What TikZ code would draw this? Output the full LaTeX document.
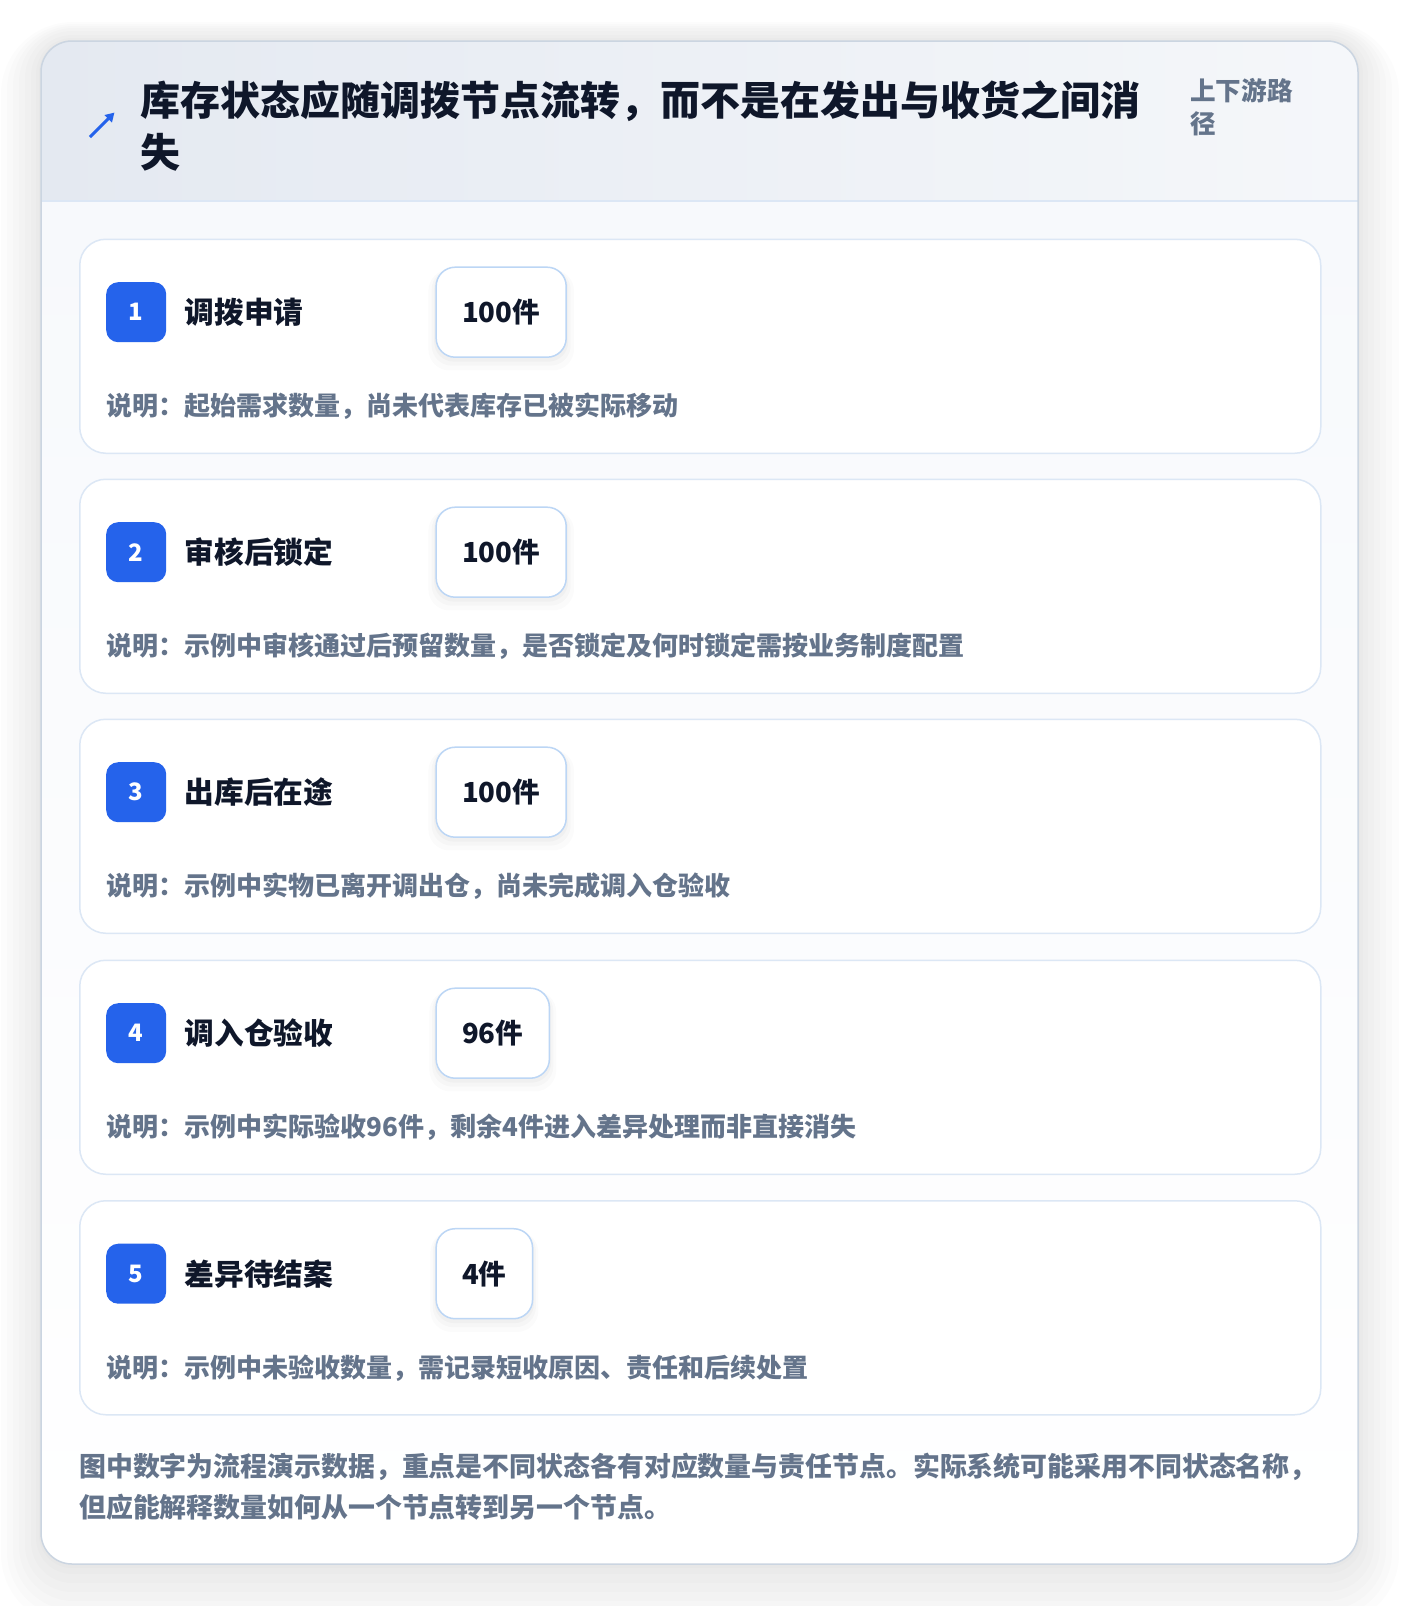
\documentclass[tikz,border=0pt]{standalone}
\usepackage{fontspec}
\setmainfont{Noto Sans CJK SC}
\usetikzlibrary{positioning,calc,shadows}
\usetikzlibrary{arrows.meta}

\definecolor{brandblue}{HTML}{2563EB}
\definecolor{inkdark}{HTML}{0F172A}
\definecolor{inkgray}{HTML}{64748B}
\definecolor{cardline}{HTML}{DCE7F5}
\definecolor{qtyline}{HTML}{BCD6F5}
\definecolor{frameline}{HTML}{CBD5E1}
\definecolor{headleft}{HTML}{E4E9F1}
\definecolor{headright}{HTML}{F5F7FA}
\definecolor{bodyfill}{HTML}{F7F9FC}

\tikzset{
  card/.style={draw=cardline, line width=1.5pt, fill=white, rounded corners=26pt,
    minimum width=1241pt, minimum height=214pt, anchor=north west, inner sep=0pt},
  badge/.style={fill=brandblue, rounded corners=12pt, minimum size=60pt, inner sep=0pt,
    text=white, font=\fontsize{24}{24}\selectfont\bfseries},
  steplabel/.style={anchor=west, inner sep=0pt, text=inkdark,
    font=\fontsize{29.7}{29.7}\selectfont\bfseries},
  qtybox/.style={draw=qtyline, line width=1.5pt, fill=white, rounded corners=19pt,
    minimum height=90pt, inner xsep=26pt, anchor=west, text=inkdark,
    font=\fontsize{27.6}{27.6}\selectfont\bfseries,
    drop shadow={shadow xshift=0pt, shadow yshift=-7pt, shadow scale=1.12, fill=black, opacity=0.015},
    drop shadow={shadow xshift=0pt, shadow yshift=-5pt, shadow scale=1.07, fill=black, opacity=0.02},
    drop shadow={shadow xshift=0pt, shadow yshift=-3pt, shadow scale=1.03, fill=black, opacity=0.025}},
  note/.style={anchor=west, inner sep=0pt, text=inkgray,
    font=\fontsize{26}{26}\selectfont\bfseries},
  haze/.style={black, opacity=0.011},
}

\begin{document}
\begin{tikzpicture}[x=1pt, y=-1pt]
   \fill[white] (0,0) rectangle (1400,1606);

   % soft shadow of the frame
   \fill[haze, rounded corners=72pt] (1,22) rectangle (1399,1626);
   \fill[haze, rounded corners=66pt] (7,24) rectangle (1392,1618);
   \fill[haze, rounded corners=60pt] (13,26) rectangle (1386,1610);
   \fill[haze, rounded corners=54pt] (19,28) rectangle (1380,1601);
   \fill[haze, rounded corners=47pt] (25,31) rectangle (1374,1592);
   \fill[haze, rounded corners=41pt] (31,35) rectangle (1368,1583);
   \fill[haze, rounded corners=36pt] (36,38) rectangle (1363,1574);
   \fill[haze, rounded corners=33pt] (39,40) rectangle (1360,1568);

   % frame and header
   \begin{scope}
      \clip[rounded corners=31pt] (41,41) rectangle (1358,1564);
      \shade[top color=bodyfill, bottom color=white] (41,201) rectangle (1358,1564);
      \shade[left color=headleft, right color=headright] (41,41) rectangle (1358,201);
   \end{scope}
   \draw[cardline, line width=1.2pt] (41,201) -- (1358,201);
   \draw[frameline, line width=1.5pt, rounded corners=31pt] (41,41) rectangle (1358,1564);

   % title
   \coordinate (ic0) at (90,137);
   \coordinate (ic1) at (114.5,112.5);
   \draw[brandblue, line width=3pt, -{Triangle[length=9pt, width=10pt]}] (ic0) -- (ic1);
   \node[anchor=west, inner sep=0pt, align=left, text=inkdark,
         font=\fontsize{40}{52}\selectfont\bfseries] (title) at (140,126)
         {库存状态应随调拨节点流转，而不是在发出与收货之间消\\失};
   \node[anchor=west, inner sep=0pt, align=left, text=inkgray,
         font=\fontsize{25.6}{33}\selectfont\bfseries] (path) at (1190,107)
         {上下游路\\径};

   % step 1
   \node[card] (c1) at (79,238.5) {};
   \node[badge, below right=43.5pt and 27pt of c1.north west] (b1) {1};
   \node[steplabel, right=18pt of b1] (l1) {调拨申请};
   \node[qtybox, right=269pt of b1] (q1) {100件};
   \node[note] (d1) at ($(c1.north west)+(27.5,168)$) {说明：起始需求数量，尚未代表库存已被实际移动};

   % step 2
   \node[card] (c2) at (79,478.5) {};
   \node[badge, below right=43.5pt and 27pt of c2.north west] (b2) {2};
   \node[steplabel, right=18pt of b2] (l2) {审核后锁定};
   \node[qtybox, right=269pt of b2] (q2) {100件};
   \node[note] (d2) at ($(c2.north west)+(27.5,168)$) {说明：示例中审核通过后预留数量，是否锁定及何时锁定需按业务制度配置};

   % step 3
   \node[card] (c3) at (79,718.5) {};
   \node[badge, below right=43.5pt and 27pt of c3.north west] (b3) {3};
   \node[steplabel, right=18pt of b3] (l3) {出库后在途};
   \node[qtybox, right=269pt of b3] (q3) {100件};
   \node[note] (d3) at ($(c3.north west)+(27.5,168)$) {说明：示例中实物已离开调出仓，尚未完成调入仓验收};

   % step 4
   \node[card] (c4) at (79,959.5) {};
   \node[badge, below right=43.5pt and 27pt of c4.north west] (b4) {4};
   \node[steplabel, right=18pt of b4] (l4) {调入仓验收};
   \node[qtybox, right=269pt of b4] (q4) {96件};
   \node[note] (d4) at ($(c4.north west)+(27.5,168)$) {说明：示例中实际验收96件，剩余4件进入差异处理而非直接消失};

   % step 5
   \node[card] (c5) at (79,1200) {};
   \node[badge, below right=43.5pt and 27pt of c5.north west] (b5) {5};
   \node[steplabel, right=18pt of b5] (l5) {差异待结案};
   \node[qtybox, right=269pt of b5] (q5) {4件};
   \node[note] (d5) at ($(c5.north west)+(27.5,168)$) {说明：示例中未验收数量，需记录短收原因、责任和后续处置};

   % footnote
   \node[anchor=west, inner sep=0pt, align=left, text=inkgray,
         font=\fontsize{26.9}{41}\selectfont\bfseries] (foot) at (79,1487)
         {图中数字为流程演示数据，重点是不同状态各有对应数量与责任节点。实际系统可能采用不同状态名称，\\但应能解释数量如何从一个节点转到另一个节点。};

   % page size
   \pgfresetboundingbox
   \useasboundingbox (0,0) rectangle (1400,1606);
\end{tikzpicture}
\end{document}
